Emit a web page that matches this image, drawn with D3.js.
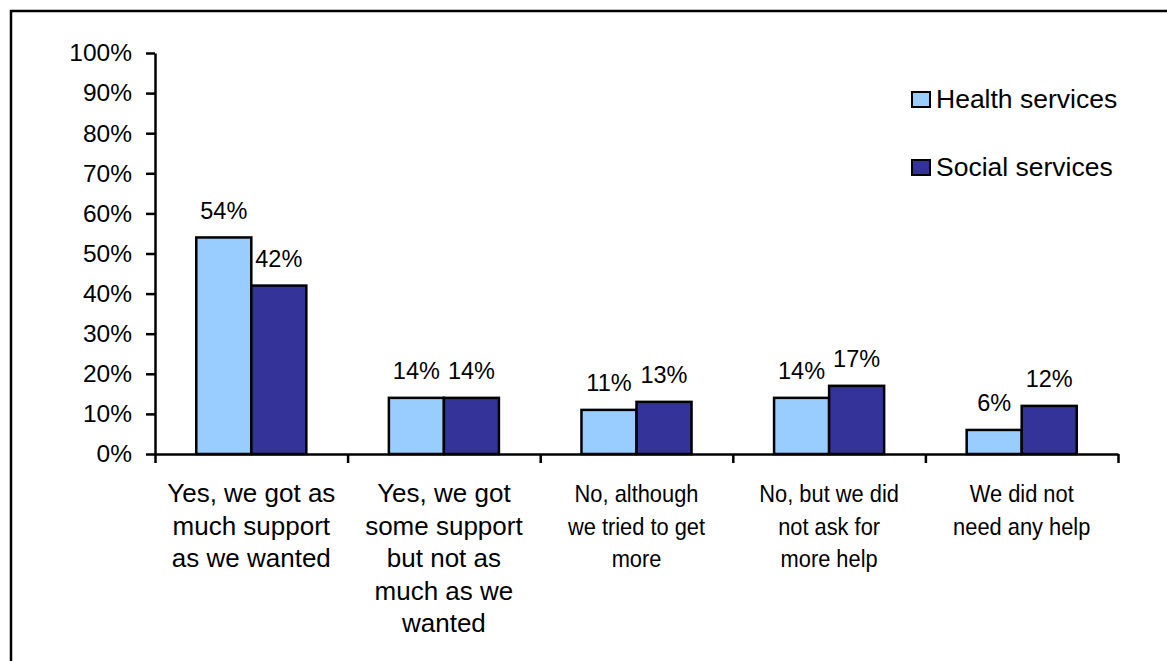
<!DOCTYPE html>
<html>
<head>
<meta charset="utf-8">
<script src="https://cdn.jsdelivr.net/npm/d3@7"></script>
<style>
  html, body { margin: 0; padding: 0; background: #fff; }
  svg { display: block; font-family: "Liberation Sans", Arial, sans-serif; }
</style>
</head>
<body>
<svg id="chart" width="1167" height="661"></svg>
<script>
// Answers to "Did you get enough support?" by service type
const categories = [
  ["Yes, we got as", "much support", "as we wanted"],
  ["Yes, we got", "some support", "but not as", "much as we", "wanted"],
  ["No, although", "we tried to get", "more"],
  ["No, but we did", "not ask for", "more help"],
  ["We did not", "need any help"]
];
const seriesNames = ["Health services", "Social services"];
const healthValues = [0.54, 0.14, 0.11, 0.14, 0.06];
const socialValues = [0.42, 0.14, 0.13, 0.17, 0.12];
const yTicks = [0, 0.1, 0.2, 0.3, 0.4, 0.5, 0.6, 0.7, 0.8, 0.9, 1.0];

const colors = ["#99CCFF", "#333399"];
const values = [healthValues, socialValues];
const pct = d3.format(".0%");

const svg = d3.select("#chart");

// outer frame (runs off the right and bottom edges)
svg.append("rect")
  .attr("x", 11).attr("y", 11)
  .attr("width", 1170).attr("height", 670)
  .attr("fill", "#fff").attr("stroke", "#000").attr("stroke-width", 2.5);

const plotLeft = 155, plotRight = 1118, plotTop = 53, plotBottom = 454;

const catKeys = categories.map((c, i) => i);
const x0 = d3.scaleBand().domain(catKeys).range([plotLeft, plotRight]).padding(0);
const x1 = d3.scaleBand().domain([0, 1]).range([0, x0.bandwidth()])
  .paddingInner(0).paddingOuter(0.75);
const y = d3.scaleLinear().domain([0, 1]).range([plotBottom, plotTop]);

// y axis
const yAxis = svg.append("g")
  .attr("transform", `translate(${plotLeft},0)`)
  .call(d3.axisLeft(y).tickValues(yTicks).tickFormat(pct)
    .tickSize(9).tickPadding(14).tickSizeOuter(0));
yAxis.select(".domain").attr("stroke", "#000").attr("stroke-width", 2.5);
yAxis.selectAll(".tick line").attr("stroke", "#000").attr("stroke-width", 2.5);
yAxis.selectAll(".tick text")
  .attr("font-size", 24.5).attr("fill", "#000")
  .attr("font-family", "Liberation Sans, Arial, sans-serif");

// bars
const groups = svg.append("g").selectAll("g")
  .data(catKeys).join("g")
  .attr("transform", d => `translate(${x0(d)},0)`);

groups.selectAll("rect")
  .data(ci => values.map((v, si) => ({ si, v: v[ci] })))
  .join("rect")
  .attr("x", d => x1(d.si))
  .attr("y", d => y(d.v))
  .attr("width", x1.bandwidth())
  .attr("height", d => y(0) - y(d.v))
  .attr("fill", d => colors[d.si])
  .attr("stroke", "#000").attr("stroke-width", 2.5);

// value labels above bars
groups.selectAll("text")
  .data(ci => values.map((v, si) => ({ si, v: v[ci] })))
  .join("text")
  .attr("x", d => x1(d.si) + x1.bandwidth() / 2)
  .attr("y", d => y(d.v) - 18.5)
  .attr("text-anchor", "middle")
  .attr("font-size", 23.5)
  .attr("fill", "#000")
  .text(d => pct(d.v));

// x axis with category separators
const xAxisLine = d3.scaleLinear().domain([0, categories.length]).range([plotLeft, plotRight]);
const xAxis = svg.append("g")
  .attr("transform", `translate(0,${plotBottom})`)
  .call(d3.axisBottom(xAxisLine).ticks(categories.length).tickFormat("")
    .tickSize(9).tickSizeOuter(0));
xAxis.select(".domain").attr("stroke", "#000").attr("stroke-width", 2.5);
xAxis.selectAll(".tick line").attr("stroke", "#000").attr("stroke-width", 2.5);

// category labels, wrapped; the first two are set wider, the rest condensed
const wide = i => i < 2;
const catLabels = svg.append("g").selectAll("text")
  .data(catKeys).join("text")
  .attr("transform", d =>
    `translate(${x0(d) + x0.bandwidth() / 2},502) scale(${wide(d) ? 1 : 0.91},1)`)
  .attr("text-anchor", "middle")
  .attr("font-size", d => wide(d) ? 26 : 24)
  .attr("fill", "#000");
catLabels.selectAll("tspan")
  .data(d => categories[d].map((line, li) => ({ line, li })))
  .join("tspan")
  .attr("x", 0)
  .attr("y", d => d.li * 32.6)
  .text(d => d.line);

// legend
const legend = svg.append("g").selectAll("g")
  .data(seriesNames).join("g")
  .attr("transform", (d, i) => `translate(912,${92 + i * 68})`);
legend.append("rect")
  .attr("width", 18).attr("height", 15)
  .attr("fill", (d, i) => colors[i])
  .attr("stroke", "#000").attr("stroke-width", 2);
legend.append("text")
  .attr("x", 24).attr("y", 16)
  .attr("font-size", 26.5)
  .attr("fill", "#000")
  .text(d => d);
</script>
</body>
</html>
